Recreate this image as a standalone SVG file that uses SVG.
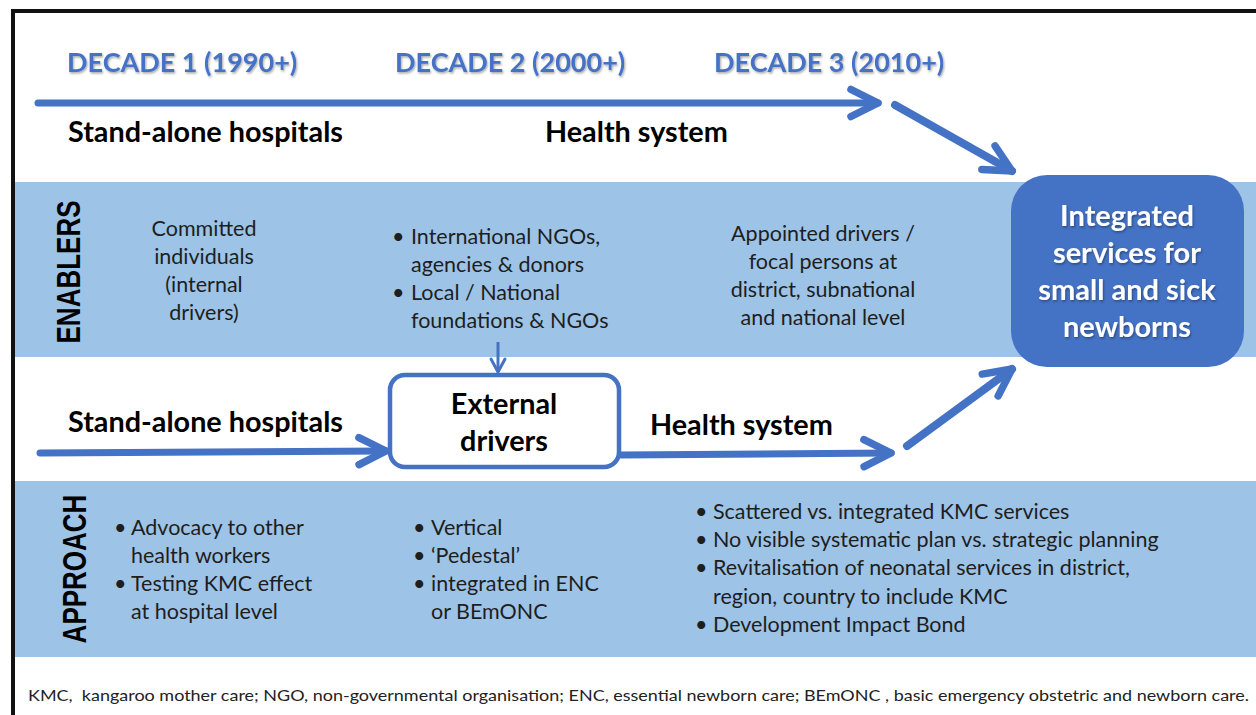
<svg xmlns="http://www.w3.org/2000/svg" width="1256" height="715" viewBox="0 0 1256 715">
<style>
.band{fill:#9DC3E6}
.frame{stroke:#111;stroke-width:4;fill:none}
.dec{font-family:Lato,"Liberation Sans",sans-serif;font-weight:bold;font-size:27px;fill:#4472C4}
.hd{font-family:Lato,"Liberation Sans",sans-serif;font-weight:bold;font-size:28.8px;fill:#000}
.side{font-family:"Liberation Sans",Arial,sans-serif;font-weight:bold;font-size:26px;fill:#000}
.body{font-family:Lato,"Liberation Sans",sans-serif;font-size:21.5px;fill:#1e1e1e}
.ctr{text-anchor:middle}
.box{fill:#4472C4}
.boxt{font-family:Lato,"Liberation Sans",sans-serif;font-weight:bold;font-size:29px;fill:#fff;text-anchor:middle}
.ext{fill:#fff;stroke:#4472C4;stroke-width:4.5}
.arr{fill:none;stroke:#4472C4;stroke-width:7;stroke-linecap:round}
.arr8{fill:none;stroke:#4472C4;stroke-width:8;stroke-linecap:round}
.thin{fill:none;stroke:#4472C4;stroke-width:3}
.foot{font-family:Lato,"Liberation Sans",sans-serif;font-size:16px;fill:#222;white-space:pre}
</style>
<defs>
<filter id="sh" x="-5%" y="-20%" width="110%" height="150%">
<feDropShadow dx="1" dy="1.5" stdDeviation="1" flood-color="#000" flood-opacity="0.35"/>
</filter>
<marker id="chev" markerUnits="userSpaceOnUse" viewBox="-34 -20 40 40" refX="0" refY="0" markerWidth="40" markerHeight="40" orient="auto" overflow="visible">
<path d="M-27,-13.5 L0,0 L-27,13.5" fill="none" stroke="#4472C4" stroke-width="7.5" stroke-linecap="round" stroke-linejoin="round"/>
</marker>
<marker id="chevs" markerUnits="userSpaceOnUse" viewBox="-16 -10 20 20" refX="0" refY="0" markerWidth="20" markerHeight="20" orient="auto" overflow="visible">
<path d="M-13,-7 L0,0 L-13,7" fill="none" stroke="#4472C4" stroke-width="3" stroke-linecap="round" stroke-linejoin="round"/>
</marker>
</defs>
<rect width="1256" height="715" fill="#fff"/>
<rect class="band" x="14" y="182" width="1242" height="175"/>
<rect class="band" x="14" y="481" width="1242" height="176"/>
<path class="frame" d="M13,715 V11 H1256"/>

<g id="headers">
<text class="dec" x="67" y="72" filter="url(#sh)">DECADE 1 (1990+)</text>
<text class="dec" x="395" y="72" filter="url(#sh)">DECADE 2 (2000+)</text>
<text class="dec" x="714" y="72" filter="url(#sh)">DECADE 3 (2010+)</text>
<text class="hd" x="68" y="142">Stand-alone hospitals</text>
<text class="hd" x="545" y="142">Health system</text>
</g>

<g id="enablers">
<text class="side" transform="translate(80,272) rotate(-90) scale(1,1.3)" text-anchor="middle">ENABLERS</text>
<text class="body ctr" x="204" y="236">Committed</text>
<text class="body ctr" x="204" y="264">individuals</text>
<text class="body ctr" x="204" y="292">(internal</text>
<text class="body ctr" x="204" y="320">drivers)</text>
<text class="body" x="392" y="244">•</text>
<text class="body" x="411" y="244">International NGOs,</text>
<text class="body" x="411" y="272">agencies &amp; donors</text>
<text class="body" x="392" y="300">•</text>
<text class="body" x="411" y="300">Local / National</text>
<text class="body" x="411" y="328">foundations &amp; NGOs</text>
<text class="body ctr" x="823" y="241">Appointed drivers /</text>
<text class="body ctr" x="823" y="269">focal persons at</text>
<text class="body ctr" x="823" y="297">district, subnational</text>
<text class="body ctr" x="823" y="325">and national level</text>
</g>

<g id="outcome">
<rect class="box" x="1011" y="175" width="233" height="192" rx="36"/>
<g filter="url(#sh)">
<text class="boxt" x="1127" y="226">Integrated</text>
<text class="boxt" x="1127" y="263">services for</text>
<text class="boxt" x="1127" y="300">small and sick</text>
<text class="boxt" x="1127" y="337">newborns</text>
</g>
</g>

<g id="external">
<rect class="ext" x="390" y="375" width="229" height="92" rx="15"/>
<text class="hd ctr" x="504" y="414">External</text>
<text class="hd ctr" x="504" y="451">drivers</text>
</g>

<g id="middle-labels">
<text class="hd" x="68" y="432">Stand-alone hospitals</text>
<text class="hd" x="650" y="435">Health system</text>
</g>

<g id="approach">
<text class="side" transform="translate(86,569) rotate(-90) scale(1,1.25)" text-anchor="middle">APPROACH</text>
<text class="body" x="114" y="535">•</text>
<text class="body" x="131" y="535">Advocacy to other</text>
<text class="body" x="131" y="563">health workers</text>
<text class="body" x="114" y="591">•</text>
<text class="body" x="131" y="591">Testing KMC effect</text>
<text class="body" x="131" y="619">at hospital level</text>
<text class="body" x="413" y="535">•</text>
<text class="body" x="431" y="535">Vertical</text>
<text class="body" x="413" y="563">•</text>
<text class="body" x="431" y="563">‘Pedestal’</text>
<text class="body" x="413" y="591">•</text>
<text class="body" x="431" y="591">integrated in ENC</text>
<text class="body" x="431" y="619">or BEmONC</text>
<text class="body" x="695" y="519">•</text>
<text class="body" x="713" y="519">Scattered vs. integrated KMC services</text>
<text class="body" x="695" y="547">•</text>
<text class="body" x="713" y="547">No visible systematic plan vs. strategic planning</text>
<text class="body" x="695" y="575">•</text>
<text class="body" x="713" y="575">Revitalisation of neonatal services in district,</text>
<text class="body" x="713" y="604">region, country to include KMC</text>
<text class="body" x="695" y="632">•</text>
<text class="body" x="713" y="632">Development Impact Bond</text>
</g>

<g id="connectors">
<path class="arr" d="M38,103 H878" marker-end="url(#chev)"/>
<path class="arr8" d="M895,105 L1012,171" marker-end="url(#chev)"/>
<path class="arr" d="M40,453 L386,451" marker-end="url(#chev)"/>
<path class="arr" d="M621,455 L891,453" marker-end="url(#chev)"/>
<path class="arr8" d="M907,446 L1012,369" marker-end="url(#chev)"/>
<path class="thin" d="M498,342 V372" marker-end="url(#chevs)"/>
</g>

<text class="foot" x="28" y="701" textLength="1221" lengthAdjust="spacingAndGlyphs">KMC,  kangaroo mother care; NGO, non-governmental organisation; ENC, essential newborn care; BEmONC , basic emergency obstetric and newborn care.</text>
</svg>
